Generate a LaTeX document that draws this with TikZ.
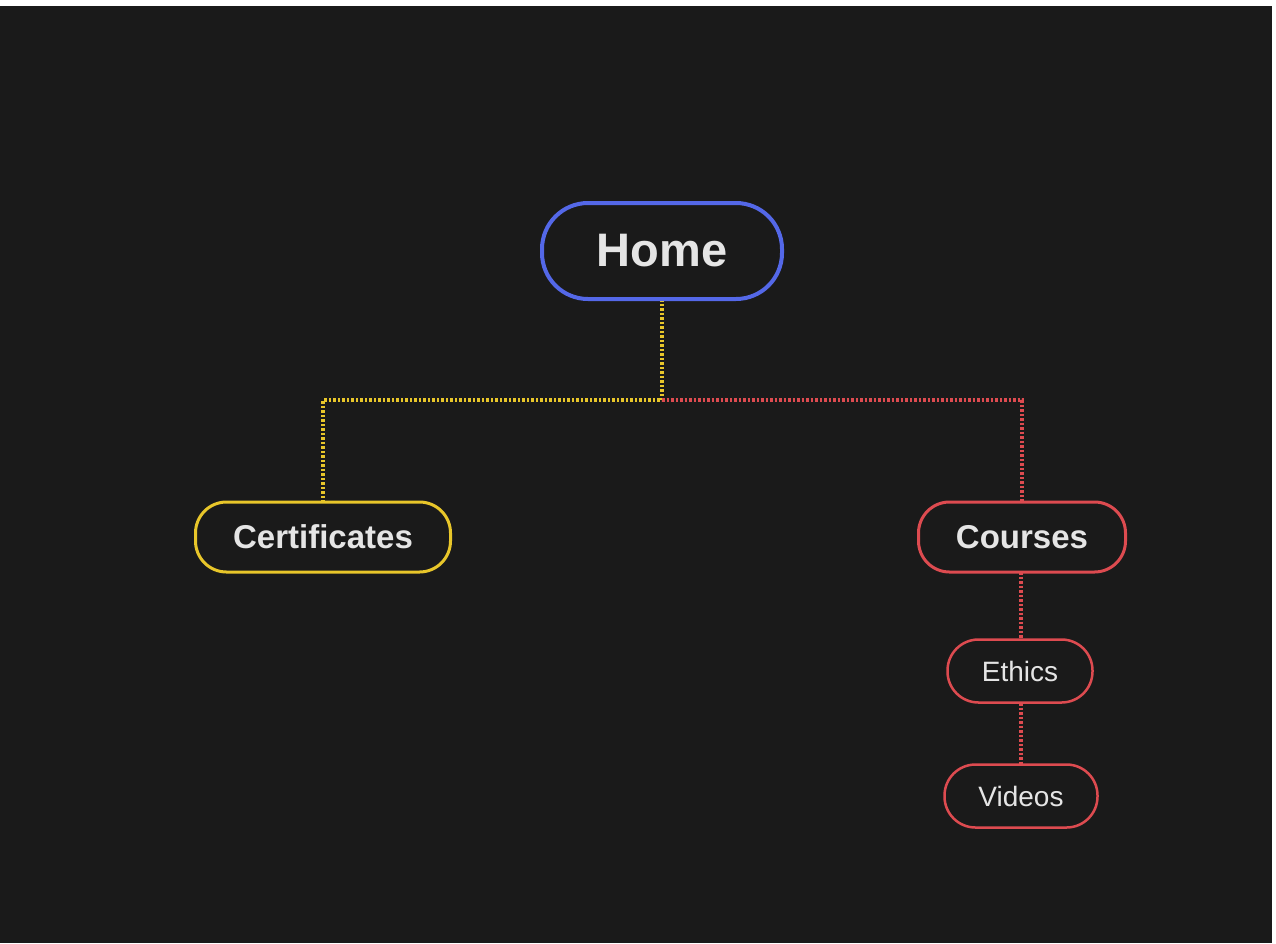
\documentclass[tikz,border=0pt]{standalone}
\usepackage{fontspec}
\setmainfont{Liberation Sans}
\begin{document}
\begin{tikzpicture}[x=1pt,y=-1pt,
  box/.style={draw,line width=3pt,rounded corners=31pt,text=white!90!black,inner sep=0pt,fill=bgc},
  conn/.style={line width=4.5pt,dash pattern=on 2.5pt off 2pt}]
\definecolor{bgc}{HTML}{1A1A1A}
\definecolor{cblue}{HTML}{5468E8}
\definecolor{cyel}{HTML}{E8C62A}
\definecolor{cred}{HTML}{DD4B50}
\fill[white] (0,0) rectangle (1276,943);
\useasboundingbox (0,0) rectangle (1276,943);
\fill[bgc] (0,6) rectangle (1272,943);
\coordinate (j) at (662,400);
\coordinate (jl) at (323,400);
\coordinate (jr) at (1022,400);
\draw[conn,cyel] (662,299) -- (j) -- (jl) -- (323,502);
\draw[conn,cred] (j) -- (jr) -- (1022,502);
\draw[conn,cred] (1021,572) -- (1021,640);
\draw[conn,cred] (1021,703) -- (1021,765);
\node[box,draw=cblue,line width=4pt,rounded corners=46pt,minimum width=240pt,minimum height=96pt,font=\bfseries\fontsize{47}{54}\selectfont] (home) at (662,251) {Home};
\node[box,draw=cyel,minimum width=255pt,minimum height=70pt,font=\bfseries\fontsize{33}{38}\selectfont] (cert) at (323,537) {Certificates};
\node[box,draw=cred,minimum width=207pt,minimum height=70pt,font=\bfseries\fontsize{33}{38}\selectfont] (courses) at (1022,537) {Courses};
\node[box,draw=cred,line width=2.5pt,minimum width=145pt,minimum height=63pt,font=\fontsize{28}{32}\selectfont] (ethics) at (1020,671) {Ethics};
\node[box,draw=cred,line width=2.5pt,minimum width=153pt,minimum height=63pt,font=\fontsize{28}{32}\selectfont] (videos) at (1021,796) {Videos};
\end{tikzpicture}
\end{document}
